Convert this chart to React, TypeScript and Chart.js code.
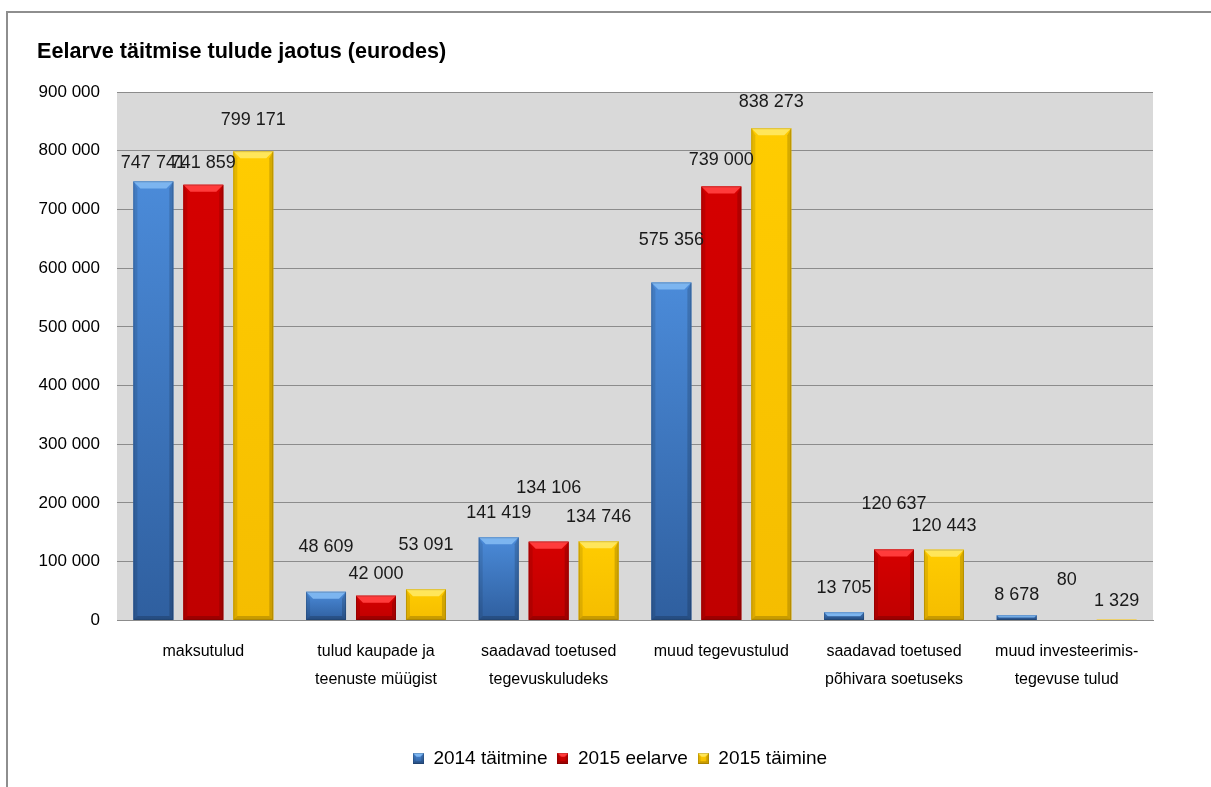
import { useEffect, useRef } from 'react';
import { Chart, registerables } from 'chart.js';

Chart.register(...registerables);

const categories = [
    ['maksutulud'],
    ['tulud kaupade ja', 'teenuste müügist'],
    ['saadavad toetused', 'tegevuskuludeks'],
    ['muud tegevustulud'],
    ['saadavad toetused', 'põhivara soetuseks'],
    ['muud investeerimis-', 'tegevuse tulud'],
];
const seriesNames = ['2014 täitmine', '2015 eelarve', '2015 täimine'];
const values2014 = [747741, 48609, 141419, 575356, 13705, 8678];
const values2015Budget = [741859, 42000, 134106, 739000, 120637, 80];
const values2015Actual = [799171, 53091, 134746, 838273, 120443, 1329];
const yTicks = [0, 100000, 200000, 300000, 400000, 500000, 600000, 700000, 800000, 900000];
const chartTitle = 'Eelarve täitmise tulude jaotus (eurodes)';

// how far each value label sits above its bar (some were dragged by hand in the original)
const labelLift = [
    [18, 45, 24, 43, 24, 20],
    [22, 22, 54, 26, 46, 40],
    [31, 44, 24, 26, 24, 19],
];

const FONT = '"Liberation Sans", Arial, sans-serif';

// base, light top, dark bottom, bevel highlight
const palette = [
    { base: '#3d77c4', top: '#4b8bd9', bottom: '#2f5f9f', bevel: '#7cb5f0' },
    { base: '#cc0000', top: '#d50000', bottom: '#c00000', bevel: '#ff3b3b' },
    { base: '#ffc800', top: '#ffcc00', bottom: '#f5bd00', bevel: '#ffe65a' },
];

const fmt = (v: number) => String(v).replace(/\B(?=(\d{3})+(?!\d))/g, ' ');

function bevelRect(ctx: CanvasRenderingContext2D, L: number, T: number, w: number, h: number, p: any) {
    const R = L + w;
    const B = T + h;
    const g = ctx.createLinearGradient(0, T, 0, B);
    g.addColorStop(0, p.top);
    g.addColorStop(1, p.bottom);
    ctx.fillStyle = g;
    ctx.fillRect(L, T, w, h);
    const b = Math.min(7, h / 2, w / 3);
    const s = Math.min(4, h / 2, w / 4);
    ctx.fillStyle = p.bevel;
    ctx.beginPath();
    ctx.moveTo(L, T);
    ctx.lineTo(R, T);
    ctx.lineTo(R - b, T + b);
    ctx.lineTo(L + b, T + b);
    ctx.closePath();
    ctx.fill();
    ctx.fillStyle = 'rgba(0,0,0,0.10)';
    ctx.beginPath();
    ctx.moveTo(L, T);
    ctx.lineTo(L + s, T + b);
    ctx.lineTo(L + s, B - s);
    ctx.lineTo(L, B);
    ctx.closePath();
    ctx.fill();
    ctx.fillStyle = 'rgba(0,0,0,0.16)';
    ctx.beginPath();
    ctx.moveTo(R, T);
    ctx.lineTo(R - s, T + b);
    ctx.lineTo(R - s, B - s);
    ctx.lineTo(R, B);
    ctx.closePath();
    ctx.fill();
    ctx.fillStyle = 'rgba(0,0,0,0.18)';
    ctx.beginPath();
    ctx.moveTo(L, B);
    ctx.lineTo(L + s, B - s);
    ctx.lineTo(R - s, B - s);
    ctx.lineTo(R, B);
    ctx.closePath();
    ctx.fill();
    ctx.strokeStyle = 'rgba(0,0,0,0.15)';
    ctx.lineWidth = 1;
    ctx.strokeRect(L + 0.5, T + 0.5, w - 1, h - 1);
}

function legendIcon(p: any) {
    const c = document.createElement('canvas');
    c.width = 11;
    c.height = 11;
    const ctx = c.getContext('2d');
    if (ctx) bevelRect(ctx, 0, 0, 11, 11, p);
    return c;
}

const excelBars = {
    id: 'excelBars',
    afterLayout(chart: any) {
        // the original legend sits a little right of centre
        if (chart.legend) {
            chart.legend.left += 25;
            chart.legend.right += 25;
        }
    },
    beforeDraw(chart: any) {
        const { ctx, chartArea: a } = chart;
        ctx.save();
        ctx.fillStyle = '#d9d9d9';
        ctx.fillRect(a.left, a.top, a.right - a.left, a.bottom - a.top);
        ctx.restore();
    },
    afterDraw(chart: any) {
        const ctx = chart.ctx;
        ctx.save();
        ctx.fillStyle = '#000';
        ctx.font = `bold 21.6px ${FONT}`;
        ctx.textAlign = 'left';
        ctx.textBaseline = 'alphabetic';
        ctx.fillText(chartTitle, 29, 45);
        ctx.restore();
    },
    afterDatasetsDraw(chart: any) {
        const ctx = chart.ctx;
        ctx.save();
        chart.data.datasets.forEach((ds: any, di: number) => {
            const meta = chart.getDatasetMeta(di);
            meta.data.forEach((bar: any) => {
                const { x, y, base, width } = bar.getProps(['x', 'y', 'base', 'width'], true);
                const h = base - y;
                if (h < 1) return;
                bevelRect(ctx, x - width / 2, y, width, h, palette[di]);
            });
        });
        // value labels
        ctx.fillStyle = '#1a1a1a';
        ctx.font = `18px ${FONT}`;
        ctx.textAlign = 'center';
        ctx.textBaseline = 'middle';
        chart.data.datasets.forEach((ds: any, di: number) => {
            const meta = chart.getDatasetMeta(di);
            meta.data.forEach((bar: any, i: number) => {
                const { x, y } = bar.getProps(['x', 'y'], true);
                ctx.fillText(fmt(ds.data[i]), x, y - labelLift[di][i]);
            });
        });
        ctx.restore();
    },
};

export default function App() {
    const canvasRef = useRef<HTMLCanvasElement>(null);

    useEffect(() => {
        if (!canvasRef.current) return;
        document.body.style.overflow = 'hidden';
        const icons = palette.map(legendIcon);
        const chart = new Chart(canvasRef.current, {
            type: 'bar',
            data: {
                labels: categories,
                datasets: [values2014, values2015Budget, values2015Actual].map((vals, i) => ({
                    label: seriesNames[i],
                    data: vals,
                    backgroundColor: vals.map(v => (v < 1000 ? 'rgba(0,0,0,0)' : palette[i].base)),
                    borderWidth: 0,
                    categoryPercentage: 0.868,
                    barPercentage: 0.8,
                })),
            },
            options: {
                responsive: true,
                maintainAspectRatio: false,
                animation: false,
                layout: { padding: { left: 29, right: 58, top: 79, bottom: 9 } },
                plugins: {
                    legend: {
                        position: 'bottom',
                        labels: {
                            color: '#000',
                            font: { family: FONT, size: 19 },
                            boxWidth: 11,
                            boxHeight: 11,
                            usePointStyle: true,
                            padding: 10,
                            generateLabels: (c: any) =>
                                c.data.datasets.map((ds: any, i: number) => ({
                                    text: ds.label,
                                    fillStyle: palette[i].base,
                                    strokeStyle: palette[i].base,
                                    lineWidth: 0,
                                    pointStyle: icons[i],
                                    hidden: false,
                                    datasetIndex: i,
                                    fontColor: '#000',
                                })),
                        },
                    },
                    tooltip: { enabled: false },
                },
                scales: {
                    x: {
                        grid: { display: false },
                        border: { color: '#8c8c8c', width: 1 },
                        ticks: {
                            color: '#000',
                            font: { family: FONT, size: 16, lineHeight: 1.75 },
                            maxRotation: 0,
                            autoSkip: false,
                            padding: 9,
                        },
                        afterFit(scale: any) {
                            scale.height = 118.6;
                        },
                    },
                    y: {
                        min: 0,
                        max: 900000,
                        afterBuildTicks(scale: any) {
                            scale.ticks = yTicks.map(v => ({ value: v }));
                        },
                        afterFit(scale: any) {
                            scale.width = 80;
                        },
                        grid: { color: '#8c8c8c', lineWidth: 1, drawTicks: false },
                        border: { display: false },
                        ticks: {
                            color: '#000',
                            font: { family: FONT, size: 17 },
                            padding: 17,
                            callback: (v: any) => fmt(Number(v)),
                        },
                    },
                },
            },
            plugins: [excelBars],
        });
        return () => chart.destroy();
    }, []);

    return (
        <div
            style={{
                position: 'absolute',
                left: 6,
                top: 11,
                width: 1205,
                height: 776,
                boxSizing: 'border-box',
                borderLeft: '2px solid #8e8e8e',
                borderTop: '2px solid #8e8e8e',
                background: '#fff',
            }}
        >
            <div style={{ position: 'relative', width: 1203, height: 774 }}>
                <canvas ref={canvasRef} />
            </div>
        </div>
    );
}
